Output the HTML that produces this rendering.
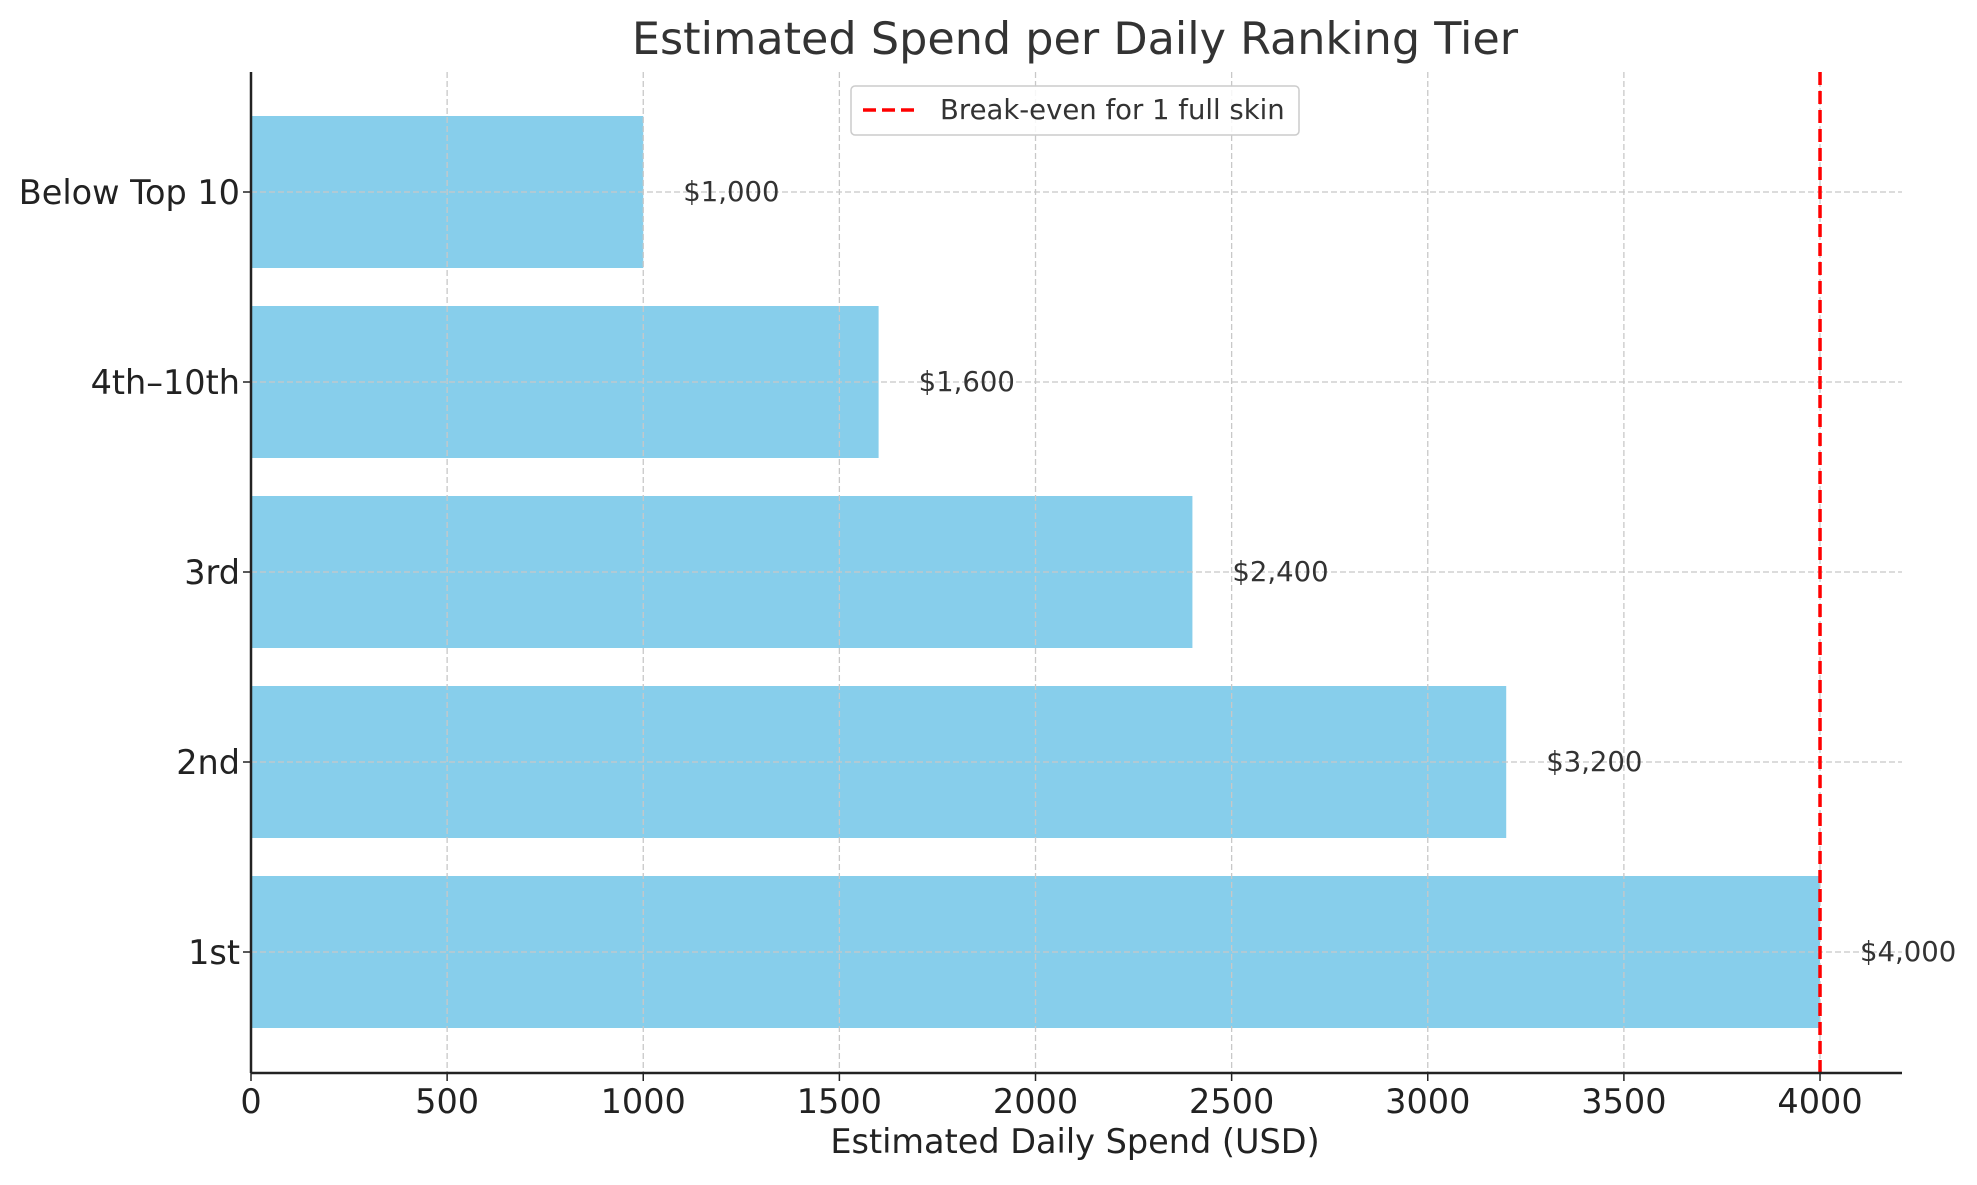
<!DOCTYPE html>
<html><head><meta charset="utf-8"><style>
html,body{margin:0;padding:0;background:#fff;}
svg text{font-family:"DejaVu Sans","Liberation Sans",sans-serif;}
</style></head><body>
<svg id="chart" width="1977" height="1180" xmlns="http://www.w3.org/2000/svg">
<text x="1075" y="54" font-size="44.5" text-anchor="middle" fill="#333">Estimated Spend per Daily Ranking Tier</text>
<g id="grid"></g>
<g id="bars"></g>
<g id="labels"></g>
<g id="axes"></g>
</svg>
<script>
const categories = ["1st","2nd","3rd","4th–10th","Below Top 10"];
const values = [4000,3200,2400,1600,1000];
const valueLabels = ["$4,000","$3,200","$2,400","$1,600","$1,000"];
const xTicks = [0,500,1000,1500,2000,2500,3000,3500,4000];
const breakEven = [4000];

const NS="http://www.w3.org/2000/svg";
const X0=251, X1=1902, XMAX=4209;
const xs=v=>X0+v*(X1-X0)/XMAX;
const Y_TOP=72, Y_BOT=1073;
const ys=i=>952-i*190;
const BH=152;
function mk(tag,attrs,parent){const e=document.createElementNS(NS,tag);for(const k in attrs)e.setAttribute(k,attrs[k]);parent.appendChild(e);return e;}
const grid=document.getElementById('grid'),bars=document.getElementById('bars'),labels=document.getElementById('labels'),axes=document.getElementById('axes');

xTicks.forEach(t=>{
  const l=mk('line',{x1:xs(t),x2:xs(t),y1:Y_TOP,y2:Y_BOT,stroke:'#c8c8c8','stroke-width':1.3,'stroke-dasharray':'6,3'},grid);
  
  
});
categories.forEach((c,i)=>{
  const r=mk('rect',{x:X0,y:ys(i)-BH/2,width:xs(values[i])-X0,height:BH,fill:'#87CEEB'},bars);
  
  
});
categories.forEach((c,i)=>{
  const l=mk('line',{x1:X0,x2:X1,y1:ys(i),y2:ys(i),stroke:'#c8c8c8','stroke-width':1.3,'stroke-dasharray':'6,3'},grid);
  
  
});
bars.parentNode.insertBefore(bars,grid);
categories.forEach((c,i)=>{
  const t=mk('text',{x:xs(values[i])+40,y:ys(i)+9,'font-size':27.5,fill:'#333'},labels);
  t.textContent=valueLabels[i];
  
  
  const yl=mk('text',{x:240,y:ys(i)+12,'font-size':33.5,'text-anchor':'end',fill:'#222'},axes);
  yl.textContent=c;
  
  
  mk('line',{x1:243,x2:251,y1:ys(i),y2:ys(i),stroke:'#222','stroke-width':1.5},axes);
});
breakEven.forEach(v=>{
  const l=mk('line',{x1:xs(v),x2:xs(v),y1:Y_TOP,y2:Y_BOT,stroke:'#f00','stroke-width':3.5,'stroke-dasharray':'13,6'},labels);
  
  
});
xTicks.forEach(t=>{
  mk('line',{x1:xs(t),x2:xs(t),y1:Y_BOT,y2:Y_BOT+8,stroke:'#222','stroke-width':1.5},axes);
  const tl=mk('text',{x:xs(t),y:Y_BOT+40,'font-size':33.5,'text-anchor':'middle',fill:'#222'},axes);
  tl.textContent=t;
  
  
});
const ax=mk('line',{x1:X0,x2:X1,y1:Y_BOT,y2:Y_BOT,stroke:'#222','stroke-width':2.5},axes);


const ay=mk('line',{x1:X0,x2:X0,y1:Y_TOP,y2:Y_BOT,stroke:'#222','stroke-width':2.5},axes);


const xt=mk('text',{x:1075,y:1153,'font-size':33.5,'text-anchor':'middle',fill:'#222'},axes);
xt.textContent='Estimated Daily Spend (USD)';


const lg=mk('g',{},axes);


mk('rect',{x:851,y:86,width:448,height:49,rx:4,fill:'#fff','fill-opacity':0.85,stroke:'#ccc','stroke-width':1.5},lg);
mk('line',{x1:863,x2:918,y1:110,y2:110,stroke:'#f00','stroke-width':3.5,'stroke-dasharray':'13,6'},lg);
const lt=mk('text',{x:940,y:119,'font-size':27.5,fill:'#333'},lg);
lt.textContent='Break-even for 1 full skin';


</script>
</body></html>
